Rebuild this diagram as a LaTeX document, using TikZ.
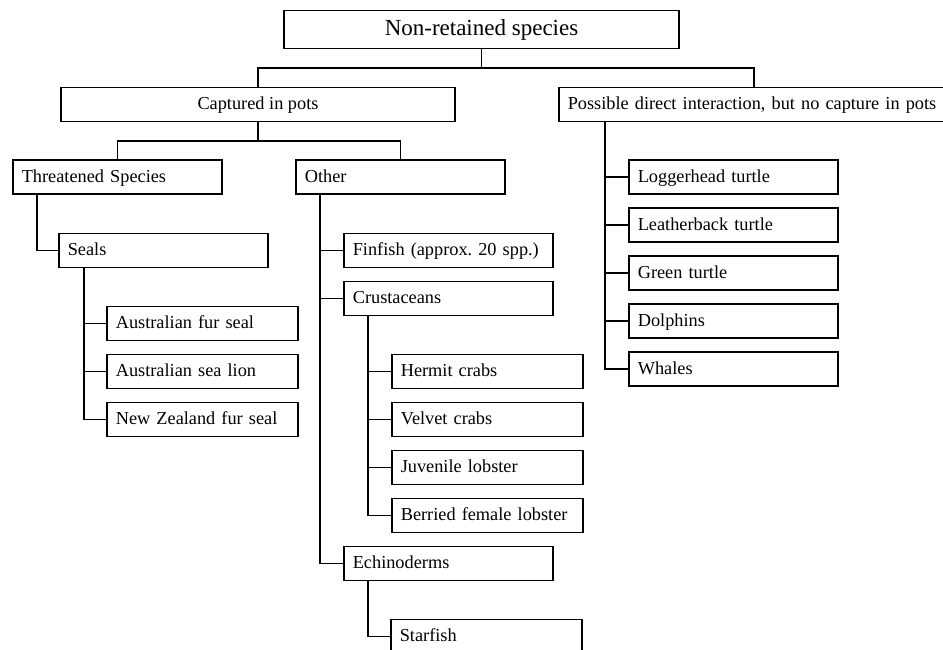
\documentclass[tikz,border=0pt]{standalone}
\usepackage{fontspec}
\setmainfont{Liberation Serif}
\usetikzlibrary{positioning}
\tikzset{
  box/.style={draw, line width=1.6pt, inner xsep=9pt, inner ysep=0pt,
    minimum height=34pt, text height=14pt, text depth=3.5pt,
    font=\fontsize{18.3}{22}\selectfont\frenchspacing},
  wide/.style={box, text width=191pt, align=left, anchor=west},
  leaf/.style={box, text width=173pt, align=left, anchor=west},
  wire/.style={line width=1.6pt},
}

\begin{document}
\begin{tikzpicture}[x=1pt, y=-1pt, node distance=12.4pt]
  \useasboundingbox (0,0) rectangle (943,650);
  % Define nodes
  \node[box, minimum width=395pt, minimum height=38pt, text height=16pt, text depth=4pt,
    font=\fontsize{23}{26}\selectfont] (nonret) at (481.5,29.5) {Non-retained species};
  \node[box, minimum width=394pt] (capt) at (258,104.5) {Captured in pots};
  \node[box, text width=400pt, align=left, anchor=west] (poss) at (558,104.5)
    {Possible direct interaction, but no capture in pots};

  \node[wide] (thr) at (12,177) {Threatened Species};
  \node[wide] (oth) at (295,177) {Other};
  \node[wide] (seals) at (58,250.5) {Seals};
  \node[leaf] (afs) at (106,323.5) {Australian fur seal};
  \node[leaf, below=of afs] (asl) {Australian sea lion};
  \node[leaf, below=of asl] (nzfs) {New Zealand fur seal};

  \node[wide] (fin) at (343,250.5) {Finfish (approx. 20 spp.)};
  \node[wide, below=of fin] (crust) {Crustaceans};
  \node[leaf] (hermit) at (391,371.5) {Hermit crabs};
  \node[leaf, below=of hermit] (velvet) {Velvet crabs};
  \node[leaf, below=of velvet] (juv) {Juvenile lobster};
  \node[leaf, below=of juv] (berried) {Berried female lobster};
  \node[wide] (echino) at (343,563.5) {Echinoderms};
  \node[leaf] (star) at (390,636.5) {Starfish};

  \node[wide] (logger) at (628,177) {Loggerhead turtle};
  \node[wide, below=of logger] (leather) {Leatherback turtle};
  \node[wide, below=of leather] (green) {Green turtle};
  \node[wide, below=of green] (dolph) {Dolphins};
  \node[wide, below=of dolph] (whale) {Whales};

  % Connect the nodes
  \draw[wire] (nonret.south) -- ++(0,19) -| (capt.north);
  \draw[wire] (nonret.south) -- ++(0,19) -| ([xshift=196pt]poss.north west);
  \draw[wire] (capt.south) -- ++(0,19) -| (thr.north);
  \draw[wire] (capt.south) -- ++(0,19) -| (oth.north);
  \draw[wire] ([xshift=25pt]thr.south west) |- (seals.west);
  \foreach \n in {afs,asl,nzfs}
    \draw[wire] ([xshift=26pt]seals.south west) |- (\n.west);
  \foreach \n in {fin,crust,echino}
    \draw[wire] ([xshift=25pt]oth.south west) |- (\n.west);
  \foreach \n in {hermit,velvet,juv,berried}
    \draw[wire] ([xshift=25pt]crust.south west) |- (\n.west);
  \draw[wire] ([xshift=25pt]echino.south west) |- (star.west);
  \foreach \n in {logger,leather,green,dolph,whale}
    \draw[wire] ([xshift=47pt]poss.south west) |- (\n.west);
\end{tikzpicture}
\end{document}
